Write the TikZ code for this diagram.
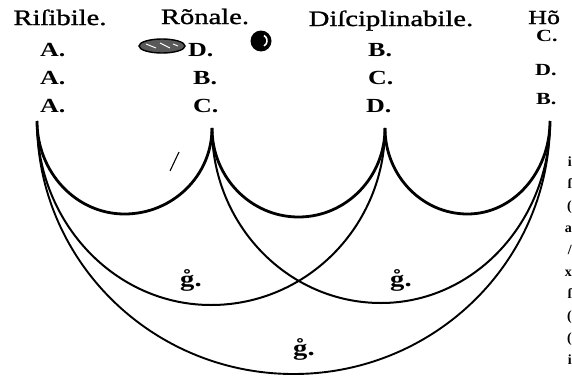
\documentclass[tikz,border=0pt]{standalone}
\usepackage{fontspec}
\setmainfont{Liberation Serif}
\newfontfamily\oldf[FakeStretch=1.3]{Liberation Serif}
\newfontfamily\oldh[FakeStretch=1.3,FakeBold=1.2]{Liberation Serif}
\begin{document}
\begin{tikzpicture}[x=1pt,y=1pt,
  hdr/.style={font=\oldh\fontsize{22}{22}\selectfont, inner sep=0pt, anchor=base},
  lett/.style={font=\oldf\bfseries\fontsize{20}{20}\selectfont, inner sep=0pt, anchor=base west},
  sml/.style={font=\oldf\bfseries\fontsize{17}{17}\selectfont, inner sep=0pt, anchor=base west},
  glab/.style={font=\oldf\bfseries\fontsize{22}{22}\selectfont, inner sep=0pt, anchor=base west},
  frag/.style={font=\bfseries\fontsize{14}{14}\selectfont, inner sep=0pt, anchor=base east},
  arcS/.style={line width=2.8pt},
  arcM/.style={line width=2pt},
  arcB/.style={line width=1.9pt}]
\useasboundingbox (0,0) rectangle (572,-380);
\fill[white] (0,0) rectangle (572,-380);
% column tops
\coordinate (c1) at (37,-121);
\coordinate (c2) at (212,-128);
\coordinate (c3) at (385,-128);
\coordinate (c4) at (550,-121);
% small arcs
\draw[arcS] (c1) arc[start angle=180,end angle=270,x radius=87.5,y radius=93]
               arc[start angle=270,end angle=360,x radius=87.5,y radius=86];
\draw[arcS] (c2) arc[start angle=180,end angle=270,x radius=86.5,y radius=89]
               arc[start angle=270,end angle=360,x radius=86.5,y radius=89];
\draw[arcS] (c3) arc[start angle=180,end angle=270,x radius=82.5,y radius=86]
               arc[start angle=270,end angle=360,x radius=82.5,y radius=93];
% medium arcs
\draw[arcM] (c1) arc[start angle=180,end angle=270,x radius=174,y radius=184]
               arc[start angle=270,end angle=360,x radius=174,y radius=177];
\draw[arcM] (c2) arc[start angle=180,end angle=270,x radius=169,y radius=175]
               arc[start angle=270,end angle=360,x radius=169,y radius=182];
% big arc
\draw[arcB] (c1) arc[start angle=180,end angle=270,x radius=256.5,y radius=253]
               arc[start angle=270,end angle=360,x radius=256.5,y radius=253];
% headers
\node[hdr] (h1) at (60,-25) {Riſibile.};
\node[hdr] (h2) at (205,-24) {Rõnale.};
\node[hdr] (h3) at (391,-26) {Diſciplinabile.};
\node[hdr, anchor=base west, font=\oldh\fontsize{20}{20}\selectfont] (h4) at (528,-24) {Hõ};
% letters
\node[lett] (a1) at (40,-56) {A.};
\node[lett] (a2) at (40,-84) {A.};
\node[lett] (a3) at (40,-112) {A.};
\node[lett] (b1) at (188,-56) {D.};
\node[lett] (b2) at (193,-84) {B.};
\node[lett] (b3) at (193,-112) {C.};
\node[lett] (d1) at (368,-56) {B.};
\node[lett] (d2) at (368,-84) {C.};
\node[lett] (d3) at (366,-112) {D.};
\node[sml] (e1) at (536,-41) {C.};
\node[sml] (e2) at (535,-75) {D.};
\node[sml] (e3) at (536,-104) {B.};
% g labels
\node[glab] (g1) at (180,-286) {g̊.};
\node[glab] (g2) at (390,-286) {g̊.};
\node[glab] (g3) at (293,-355) {g̊.};
% ink blot and dot
\draw[line width=1.4pt, fill=black!65] (162,-46) ellipse[x radius=23, y radius=7];
\draw[white, line width=1pt] (146,-44) -- (156,-48) (160,-43) -- (170,-48) (173,-44) -- (178,-46);
\fill (261,-41) circle[radius=10.5];
\draw[white, line width=1.6pt] (264,-35.5) arc[start angle=60,end angle=-60,radius=6];
% stray mark
\draw[line width=1.1pt] (170,-171) -- (179,-152);
% cut-off marginal letters
\node[frag] (f1) at (572,-166) {i};
\node[frag] (f2) at (572,-188) {ſ};
\node[frag] (f3) at (572,-210) {(};
\node[frag] (f4) at (572,-232) {a};
\node[frag] (f5) at (572,-254) {/};
\node[frag] (f6) at (572,-276) {x};
\node[frag] (f7) at (572,-298) {ſ};
\node[frag] (f8) at (572,-320) {(};
\node[frag] (f9) at (572,-342) {(};
\node[frag] (f10) at (572,-364) {i};
\end{tikzpicture}
\end{document}
